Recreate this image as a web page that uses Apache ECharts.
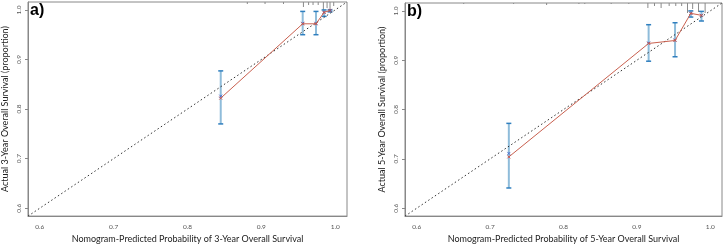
<!DOCTYPE html>
<html>
<head>
<meta charset="utf-8">
<script src="https://cdn.jsdelivr.net/npm/echarts@6/dist/echarts.min.js"></script>
<style>
  html, body { margin: 0; padding: 0; background: #fff; }
  #chart { width: 724px; height: 249px; }
</style>
</head>
<body>
<div id="chart"></div>
<script>
// panel a) 3-year
const predA = [0.845, 0.956, 0.974, 0.985, 0.993]
const obsA = [0.822, 0.972, 0.972, 0.995, 0.999]
const kmA = [0.826, 0.973, 0.973, 0.995, 0.999]
const lowA = [0.770, 0.950, 0.950, 0.987, 0.996]
const highA = [0.877, 0.997, 0.997, 1.000, 1.000]
const rugXA = [0.881, 0.905, 0.930, 0.957, 0.964, 0.970, 0.977, 0.984, 0.989, 0.993, 0.998]
const rugNA = [2, 2, 2, 5, 3, 3, 3, 9, 6, 9, 4]

// panel b) 5-year
const predB = [0.7255, 0.916, 0.952, 0.9735, 0.988]
const obsB = [0.704, 0.934, 0.940, 0.995, 0.991]
const kmB = [0.711, 0.935, 0.941, 0.995, 0.991]
const lowB = [0.641, 0.898, 0.907, 0.9875, 0.9795]
const highB = [0.772, 0.972, 0.976, 1.000, 0.999]
const rugXB = [0.664, 0.732, 0.777, 0.821, 0.829, 0.865, 0.889, 0.915, 0.924, 0.933, 0.944, 0.953, 0.961, 0.969, 0.976, 0.984, 0.993]
const rugNB = [1, 1, 2, 1, 1, 1, 1, 5, 3, 5, 3, 3, 3, 10, 6, 9, 10]

const tickVals = [0.6, 0.7, 0.8, 0.9, 1.0]
const axMin = 0.584
const axMax = 1.016

const crossPath = 'path://M0,0L10,10M10,0L0,10'
const font = 'Lato, "Open Sans", sans-serif'

const chart = echarts.init(document.getElementById('chart'))

function xAxisFor (gi, years) {
  return {
    gridIndex: gi,
    type: 'value',
    min: axMin,
    max: axMax,
    name: 'Nomogram-Predicted Probability of ' + years + '-Year Overall Survival',
    nameLocation: 'middle',
    nameGap: 16,
    nameTextStyle: { fontFamily: font, fontSize: 9, color: '#222' },
    axisLine: { show: true, onZero: false, lineStyle: { color: '#888' } },
    axisTick: { show: false },
    splitLine: { show: false },
    axisLabel: {
      fontFamily: font, fontSize: 6.5, color: '#555', margin: 7,
      customValues: tickVals,
      formatter: v => v.toFixed(1)
    }
  }
}

function yAxisFor (gi, years) {
  return {
    gridIndex: gi,
    type: 'value',
    min: axMin,
    max: axMax,
    name: 'Actual ' + years + '-Year Overall Survival (proportion)',
    nameLocation: 'middle',
    nameGap: 18,
    nameTextStyle: { fontFamily: font, fontSize: 9, color: '#222' },
    axisLine: { show: true, onZero: false, lineStyle: { color: '#888' } },
    axisTick: { show: true, length: 3, customValues: tickVals, lineStyle: { color: '#888' } },
    splitLine: { show: false },
    axisLabel: {
      fontFamily: font, fontSize: 6.5, color: '#555', margin: 6, rotate: 90,
      customValues: tickVals,
      formatter: v => v.toFixed(1)
    }
  }
}

function zip (a, b) { return a.map((v, i) => [v, b[i]]) }

function panelSeries (gi, pred, obs, km, low, high, rugX, rugN) {
  return [
    {
      type: 'line', xAxisIndex: gi, yAxisIndex: gi,
      data: [[axMin, axMin], [axMax, axMax]],
      symbol: 'none', silent: true,
      lineStyle: { color: '#333', width: 1, type: [1.5, 2.5] }
    },
    {
      type: 'custom', xAxisIndex: gi, yAxisIndex: gi,
      data: rugX.map((x, i) => [x, rugN[i]]),
      renderItem: (params, api) => {
        const p = api.coord([api.value(0), axMax])
        return {
          type: 'line',
          shape: { x1: p[0], y1: p[1], x2: p[0], y2: p[1] + api.value(1) },
          style: { stroke: '#8a8a8a', lineWidth: 1 }
        }
      }
    },
    {
      type: 'custom', xAxisIndex: gi, yAxisIndex: gi,
      data: pred.map((x, i) => [x, low[i], high[i]]),
      renderItem: (params, api) => {
        const lo = api.coord([api.value(0), api.value(1)])
        const hi = api.coord([api.value(0), api.value(2)])
        const w = 2.5
        return {
          type: 'group',
          children: [
            { type: 'line', shape: { x1: lo[0], y1: lo[1], x2: hi[0], y2: hi[1] }, style: { stroke: '#8fbcda', lineWidth: 2 } },
            { type: 'line', shape: { x1: lo[0] - w, y1: lo[1], x2: lo[0] + w, y2: lo[1] }, style: { stroke: '#2f7fbf', lineWidth: 1.5 } },
            { type: 'line', shape: { x1: hi[0] - w, y1: hi[1], x2: hi[0] + w, y2: hi[1] }, style: { stroke: '#2f7fbf', lineWidth: 1.5 } }
          ]
        }
      }
    },
    {
      type: 'line', xAxisIndex: gi, yAxisIndex: gi,
      data: zip(pred, obs),
      symbol: 'none',
      lineStyle: { color: '#c9604f', width: 1 }
    },
    {
      type: 'scatter', xAxisIndex: gi, yAxisIndex: gi,
      data: zip(pred, km),
      symbol: crossPath, symbolSize: 3,
      itemStyle: { color: 'none', borderColor: '#3b5fc8', borderWidth: 1 }
    },
    {
      type: 'scatter', xAxisIndex: gi, yAxisIndex: gi,
      data: zip(pred, obs),
      symbol: crossPath, symbolSize: 3,
      itemStyle: { color: 'none', borderColor: '#d0453a', borderWidth: 1 }
    }
  ]
}

const option = {
  animation: false,
  backgroundColor: '#fff',
  grid: [
    { left: 28, top: 2, width: 319, height: 218, show: true, borderColor: '#888', borderWidth: 1 },
    { left: 405, top: 3, width: 317, height: 219, show: true, borderColor: '#888', borderWidth: 1 }
  ],
  title: [
    { text: 'a)', left: 30, top: 3, padding: 0, textStyle: { fontFamily: 'Liberation Sans, Arial', fontSize: 16, fontWeight: 'bold', color: '#000' } },
    { text: 'b)', left: 407, top: 4, padding: 0, textStyle: { fontFamily: 'Liberation Sans, Arial', fontSize: 16, fontWeight: 'bold', color: '#000' } }
  ],
  xAxis: [xAxisFor(0, 3), xAxisFor(1, 5)],
  yAxis: [yAxisFor(0, 3), yAxisFor(1, 5)],
  series: [
    ...panelSeries(0, predA, obsA, kmA, lowA, highA, rugXA, rugNA),
    ...panelSeries(1, predB, obsB, kmB, lowB, highB, rugXB, rugNB)
  ]
}

chart.setOption(option)
</script>
</body>
</html>
